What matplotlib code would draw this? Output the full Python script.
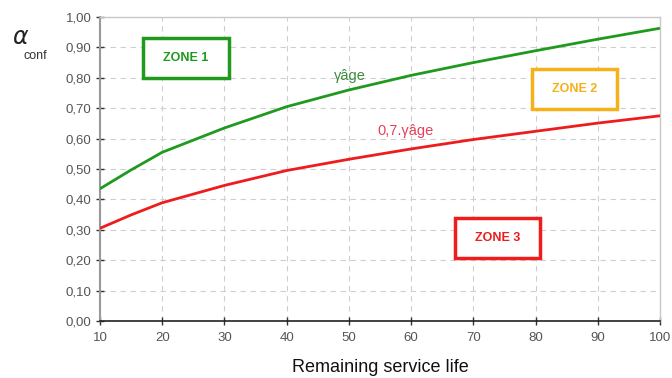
import matplotlib
matplotlib.use("Agg")
import matplotlib.pyplot as plt
from matplotlib.patches import Rectangle

plt.rcParams['font.family'] = ['Liberation Sans', 'DejaVu Sans']

# Remaining service life (years)
life = [10, 15, 20, 30, 40, 50, 60, 70, 80, 90, 100]
# Confidence factor curves
gamma_age = [0.435, 0.497, 0.555, 0.635, 0.705, 0.760, 0.808, 0.850, 0.889, 0.927, 0.963]
gamma_age_07 = [0.305, 0.349, 0.389, 0.446, 0.495, 0.532, 0.566, 0.597, 0.624, 0.651, 0.675]

x_ticks = [10, 20, 30, 40, 50, 60, 70, 80, 90, 100]
y_ticks = [0.0, 0.1, 0.2, 0.3, 0.4, 0.5, 0.6, 0.7, 0.8, 0.9, 1.0]
y_labels = [f"{v:.2f}".replace('.', ',') for v in y_ticks]

fig = plt.figure(figsize=(6.72, 3.78), dpi=100)
ax = fig.add_axes([100/672, 1-321/378, 560/672, 304/378])

ax.plot(life, gamma_age, color='#1f9a1f', lw=2.0, solid_capstyle='butt', zorder=3)
ax.plot(life, gamma_age_07, color='#ee1c1c', lw=2.0, solid_capstyle='butt', zorder=3)

ax.set_xlim(10, 100)
ax.set_ylim(0, 1.0)
ax.set_xticks(x_ticks)
ax.set_yticks(y_ticks)
ax.set_yticklabels(y_labels)
ax.grid(True, color='#cfcfcf', ls=(0, (5, 4)), lw=0.8)
ax.tick_params(axis='both', direction='inout', length=6, width=1, colors='#333333',
               labelcolor='#555555', labelsize=9.5)
ax.tick_params(axis='x', pad=5)
ax.tick_params(axis='y', pad=3)

for side in ['top', 'right']:
    ax.spines[side].set_color('#c8c8c8')
    ax.spines[side].set_linewidth(1.0)
ax.spines['left'].set_color('#999999')
ax.spines['left'].set_linewidth(1.5)
ax.spines['bottom'].set_color('#222222')
ax.spines['bottom'].set_linewidth(1.2)

ax.set_xlabel('Remaining service life', fontsize=13, color='#111111', labelpad=11)

fig.text(12/672, 1-37/378, r'$\alpha$', fontsize=17, color='#222222',
         family='DejaVu Serif', va='center', ha='left')
fig.text(24/672, 1-56/378, 'conf', fontsize=9, color='#333333', va='center', ha='left')

# Zone boxes
zones = [
    ('ZONE 1', 143, 38, 86, 40, '#1f9a1f'),
    ('ZONE 2', 532, 69, 85, 40, '#f5b01a'),
    ('ZONE 3', 455, 218, 85, 40, '#ee1c1c'),
]
for text, x0, y0, w, h, col in zones:
    fig.patches.append(Rectangle((x0/672, 1-(y0+h)/378), w/672, h/378,
                                 transform=fig.transFigure, fill=True, fc='white',
                                 ec=col, lw=2.5, zorder=5))
    fig.text((x0+w/2)/672, 1-(y0+h/2)/378, text, color=col, fontsize=9,
             fontweight='bold', ha='center', va='center', zorder=6)

# Curve labels
fig.text(334/672, 1-76/378, 'γâge', fontsize=10.5, color='#3c8c3c',
         ha='left', va='center')
fig.text(377/672, 1-131/378, '0,7.γâge', fontsize=10.5, color='#e8405a',
         ha='left', va='center')

fig.savefig('out.png', dpi=100)
